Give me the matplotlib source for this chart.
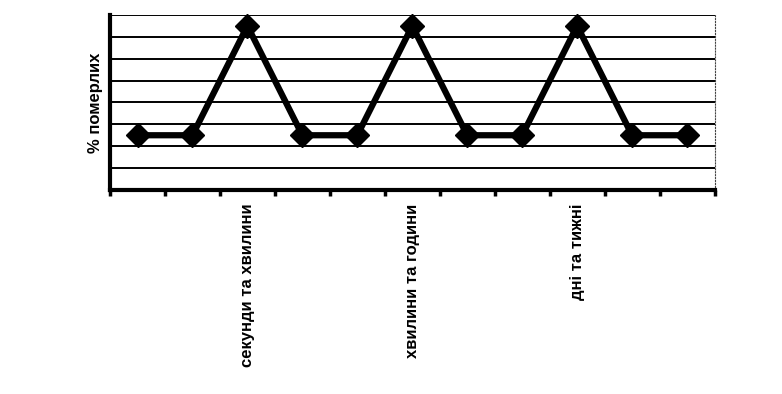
import numpy as np
import matplotlib.pyplot as plt

plt.rcParams['font.family'] = ['Liberation Sans', 'DejaVu Sans']

# categories (only every third one is labelled in the original)
labels = ['', '', 'секунди та хвилини', '', '', 'хвилини та години',
          '', '', 'дні та тижні', '', '']
values = [2.5, 2.5, 7.5, 2.5, 2.5, 7.5, 2.5, 2.5, 7.5, 2.5, 2.5]
ylabel = '% померлих'

x = np.arange(len(values))

fig = plt.figure(figsize=(7.82, 3.94), dpi=100)
ax = fig.add_axes([0.1407, 0.518, 0.773, 0.444])

ax.plot(x, values, color='black', lw=4.5, marker='D', ms=12,
        mec='black', mfc='black', zorder=3, clip_on=False)

ax.set_xlim(-0.5, len(values) - 0.5)
ax.set_ylim(0, 8)

# horizontal grid
ax.set_yticks(np.arange(0, 9, 1))
ax.yaxis.grid(True, color='black', lw=1.4)
ax.tick_params(axis='y', left=False, labelleft=False)
ax.set_axisbelow(True)

# category labels at centres, tick marks at boundaries
ax.set_xticks(x)
ax.set_xticklabels(labels, rotation=90, fontsize=12, fontweight='bold', va='top')
ax.tick_params(axis='x', which='major', length=0, pad=10)
ax.set_xticks(np.arange(-0.5, len(values), 1), minor=True)
ax.tick_params(axis='x', which='minor', length=4, width=2.5, color='black')

ax.spines['left'].set_linewidth(3)
ax.spines['bottom'].set_linewidth(3)
ax.spines['top'].set_visible(False)
ax.spines['right'].set_linewidth(0.8)
ax.spines['right'].set_linestyle(':')
ax.spines['right'].set_color('#444444')

ax.set_ylabel(ylabel, fontsize=12, fontweight='bold', labelpad=5)

fig.savefig('out.png', dpi=100)
